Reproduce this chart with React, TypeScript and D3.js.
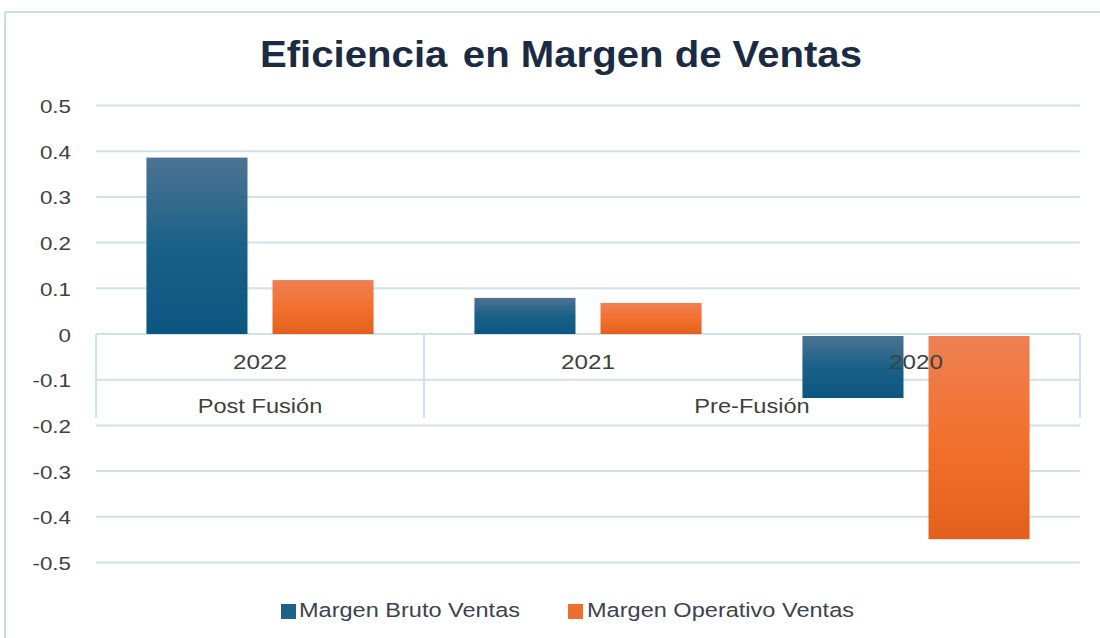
import React from 'react';
import * as d3 from 'd3';

const categories = ['2022', '2021', '2020'];
const seriesNames = ['Margen Bruto Ventas', 'Margen Operativo Ventas'];
const brutoValues = [0.386, 0.079, -0.14];
const operativoValues = [0.118, 0.068, -0.449];
const yTicks = [0.5, 0.4, 0.3, 0.2, 0.1, 0, -0.1, -0.2, -0.3, -0.4, -0.5];
const yTickLabels = ['0.5', '0.4', '0.3', '0.2', '0.1', '0', '-0.1', '-0.2', '-0.3', '-0.4', '-0.5'];
const groupLabels = ['Post Fusión', 'Pre-Fusión'];
const groupFirst = ['2022', '2021'];
const groupLast = ['2022', '2020'];

const W = 1100;
const H = 638;
const FONT = '"Liberation Sans", Arial, sans-serif';

export default function App() {
  const x0 = d3.scaleBand<string>().domain(categories).range([96, 1080]).paddingInner(0).paddingOuter(0);
  const x1 = d3
    .scaleBand<string>()
    .domain(seriesNames)
    .range([0, x0.bandwidth()])
    .paddingInner(25 / 126)
    .paddingOuter(0.4);
  const y = d3.scaleLinear().domain([-0.5, 0.5]).range([562.5, 105.5]);
  const values = [brutoValues, operativoValues];
  const fills = ['url(#gBruto)', 'url(#gOper)'];
  const legendSwatch = ['#1d6189', '#ee6d30'];
  const gridColor = '#d3dfea';
  const textColor = '#404040';
  const axisBottom = 418;

  return (
    <svg width={W} height={H} style={{ position: 'absolute', left: 0, top: 0, background: '#ffffff' }}>
      <defs>
        <linearGradient id="gBruto" x1="0" y1="0" x2="0" y2="1">
          <stop offset="0" stopColor="#4c7392" />
          <stop offset="0.5" stopColor="#1a6187" />
          <stop offset="1" stopColor="#0b5680" />
        </linearGradient>
        <linearGradient id="gOper" x1="0" y1="0" x2="0" y2="1">
          <stop offset="0" stopColor="#ee8054" />
          <stop offset="0.5" stopColor="#f2712d" />
          <stop offset="1" stopColor="#e2601c" />
        </linearGradient>
      </defs>
      <rect x={0} y={0} width={W} height={H} fill="#ffffff" />
      {/* outer frame */}
      <line x1={5} y1={12} x2={W} y2={12} stroke="#c8dcef" strokeWidth={2} />
      <line x1={5} y1={12} x2={5} y2={H} stroke="#c8dcef" strokeWidth={2} />

      {/* title */}
      <text
        x={260}
        y={67}
        fontFamily={FONT}
        fontWeight="bold"
        fontSize={37}
        fill="#1b2b44"
        textLength={602}
        lengthAdjust="spacingAndGlyphs"
      >
        <tspan>Eficiencia</tspan>
        <tspan dx={4}> en Margen de Ventas</tspan>
      </text>

      {/* gridlines */}
      {yTicks.map((t) => (
        <line key={'g' + t} x1={96} x2={1080} y1={y(t)} y2={y(t)} stroke={gridColor} strokeWidth={2} />
      ))}
      {/* category axis dividers */}
      {groupFirst.map((c, i) => (
        <line
          key={'vd' + i}
          x1={x0(c)!}
          x2={x0(c)!}
          y1={y(0)}
          y2={axisBottom}
          stroke={gridColor}
          strokeWidth={2}
        />
      ))}
      <line
        x1={x0(categories[categories.length - 1])! + x0.bandwidth()}
        x2={x0(categories[categories.length - 1])! + x0.bandwidth()}
        y1={y(0)}
        y2={axisBottom}
        stroke={gridColor}
        strokeWidth={2}
      />

      {/* y tick labels */}
      {yTicks.map((t, i) => (
        <g key={'yl' + t} transform={`translate(71,${y(t) + 7.5}) scale(1.28,1)`}>
          <text textAnchor="end" fontFamily={FONT} fontSize={17.5} fill={textColor}>
            {yTickLabels[i]}
          </text>
        </g>
      ))}

      {/* bars */}
      {categories.map((c, ci) => (
        <g key={'c' + c} transform={`translate(${x0(c)},0)`}>
          {seriesNames.map((s, si) => {
            const v = values[si][ci];
            const top = v >= 0 ? y(v) : y(0) + 2;
            const h = v >= 0 ? y(0) - y(v) : y(v) - y(0) - 2;
            return <rect key={s} x={x1(s)!} y={top} width={x1.bandwidth()} height={h} fill={fills[si]} />;
          })}
        </g>
      ))}

      {/* category labels */}
      {categories.map((c) => (
        <g key={'cl' + c} transform={`translate(${x0(c)! + x0.bandwidth() / 2},368.5) scale(1.18,1)`}>
          <text textAnchor="middle" fontFamily={FONT} fontSize={20.5} fill={textColor}>
            {c}
          </text>
        </g>
      ))}
      {groupLabels.map((g, i) => {
        const cx = (x0(groupFirst[i])! + x0(groupLast[i])! + x0.bandwidth()) / 2;
        return (
          <g key={'gl' + g} transform={`translate(${cx},413) scale(1.18,1)`}>
            <text textAnchor="middle" fontFamily={FONT} fontSize={20} fill={textColor}>
              {g}
            </text>
          </g>
        );
      })}

      {/* legend */}
      <rect x={281} y={604} width={15} height={15} fill={legendSwatch[0]} />
      <text
        x={299}
        y={617}
        fontFamily={FONT}
        fontSize={20.5}
        fill="#3b4350"
        textLength={221}
        lengthAdjust="spacingAndGlyphs"
      >
        {seriesNames[0]}
      </text>
      <rect x={568} y={604} width={15} height={15} fill={legendSwatch[1]} />
      <text
        x={587}
        y={617}
        fontFamily={FONT}
        fontSize={20.5}
        fill="#3b4350"
        textLength={267}
        lengthAdjust="spacingAndGlyphs"
      >
        {seriesNames[1]}
      </text>
    </svg>
  );
}
